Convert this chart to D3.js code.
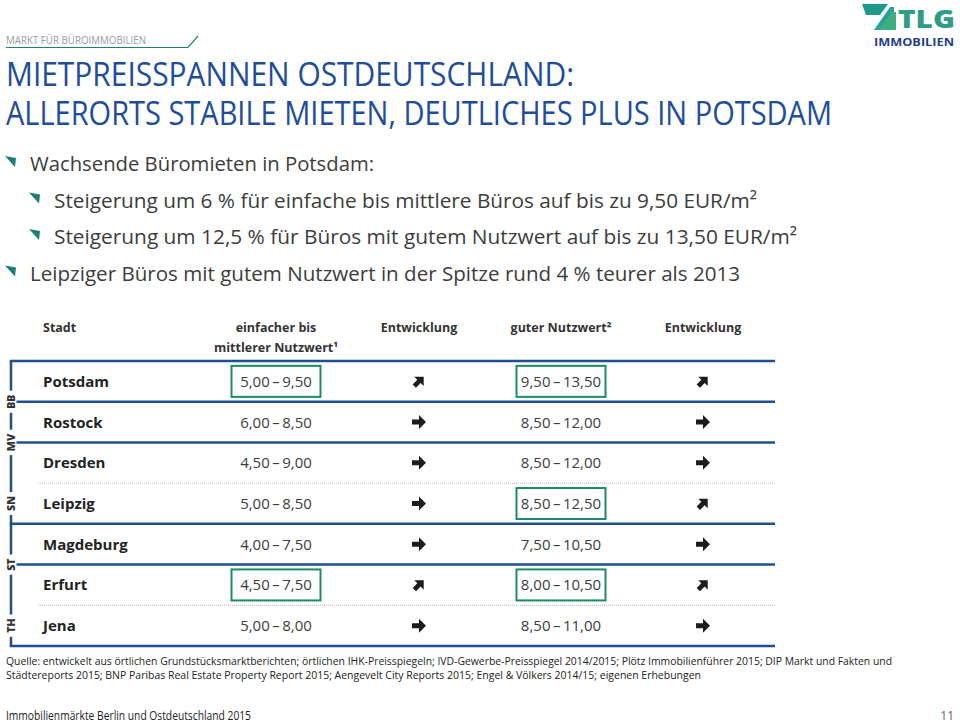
<!DOCTYPE html>
<html>
<head>
<meta charset="utf-8">
<script src="https://cdn.jsdelivr.net/npm/d3@7/dist/d3.min.js"></script>
<style>
  html, body { margin: 0; padding: 0; background: #fff; }
  svg { display: block; }
  text { font-family: "Open Sans", "Noto Sans", "DejaVu Sans", sans-serif; }
</style>
</head>
<body>
<svg id="chart" width="960" height="724"></svg>
<script>
// ---------- DATA ----------
const kicker = "MARKT FÜR BÜROIMMOBILIEN";
const titleLines = ["MIETPREISSPANNEN OSTDEUTSCHLAND:", "ALLERORTS STABILE MIETEN, DEUTLICHES PLUS IN POTSDAM"];
const bulletTexts = [
  "Wachsende Büromieten in Potsdam:",
  "Steigerung um 6 % für einfache bis mittlere Büros auf bis zu 9,50 EUR/m²",
  "Steigerung um 12,5 % für Büros mit gutem Nutzwert auf bis zu 13,50 EUR/m²",
  "Leipziger Büros mit gutem Nutzwert in der Spitze rund 4 % teurer als 2013"
];
const bulletLevels = [0, 1, 1, 0];

const headerStadt = "Stadt";
const headerSimple = ["einfacher bis", "mittlerer Nutzwert¹"];
const headerTrend = "Entwicklung";
const headerGood = "guter Nutzwert²";

const cities = ["Potsdam", "Rostock", "Dresden", "Leipzig", "Magdeburg", "Erfurt", "Jena"];
const states = ["BB", "MV", "SN", "SN", "ST", "TH", "TH"];
const simpleLow  = [5.00, 6.00, 4.50, 5.00, 4.00, 4.50, 5.00];
const simpleHigh = [9.50, 8.50, 9.00, 8.50, 7.50, 7.50, 8.00];
const simpleTrend = ["up", "flat", "flat", "flat", "flat", "up", "flat"];
const goodLow  = [9.50, 8.50, 8.50, 8.50, 7.50, 8.00, 8.50];
const goodHigh = [13.50, 12.00, 12.00, 12.50, 10.50, 10.50, 11.00];
const goodTrend = ["up", "flat", "flat", "up", "flat", "up", "flat"];

const sourceLines = [
  "Quelle: entwickelt aus örtlichen Grundstücksmarktberichten; örtlichen IHK-Preisspiegeln; IVD-Gewerbe-Preisspiegel 2014/2015; Plötz Immobilienführer 2015; DIP Markt und Fakten und",
  "Städtereports 2015; BNP Paribas Real Estate Property Report 2015; Aengevelt City Reports 2015; Engel & Völkers 2014/15; eigenen Erhebungen"
];
const footerText = "Immobilienmärkte Berlin und Ostdeutschland 2015";
const pageNumber = "11";

// ---------- STYLE ----------
const NAVY = "#1f4f8f";
const TITLE = "#1e4d9b";
const TEAL = "#1b7f72";
const BOX = "#1d8a6c";
const TEXT = "#3c3c3c";

const svg = d3.select("#chart");
const de = d3.formatLocale({decimal: ",", thousands: ".", grouping: [3], currency: ["", " €"]});
const fmt = de.format(".2f");

function fit(sel, w) {
  sel.attr("textLength", w).attr("lengthAdjust", "spacingAndGlyphs");
}

// ---------- HEADER ----------
svg.append("text").attr("x", 6).attr("y", 44).attr("font-size", 11.5).attr("fill", "#9a9a9a")
  .text(kicker).call(fit, 140);
svg.append("path").attr("d", "M6,47.5 L188,47.5 L198,36").attr("fill", "none")
  .attr("stroke", TEAL).attr("stroke-width", 1.2);

const titleW = [568, 826];
titleLines.forEach((t, i) => {
  svg.append("text").attr("x", 6).attr("y", 86 + i * 39).attr("font-size", 33).attr("font-weight", 400)
    .attr("fill", TITLE).text(t).call(fit, titleW[i]);
});

// logo
const logo = svg.append("g").attr("transform", "translate(858,4)");
logo.append("path").attr("d", "M4,0 L30,0 L22,11 L8,11 Z").attr("fill", "#1e9a8c");
logo.append("path").attr("d", "M0,26 L16,26 L32,3 L36,3 L36,8 L22,26 Z").attr("fill", "#29a0a0");
logo.append("path").attr("d", "M20,26 L34,8 L38,8 L38,26 Z").attr("fill", "#3fae7a");
logo.append("text").attr("x", 40).attr("y", 24).attr("font-size", 24).attr("font-weight", 800)
  .attr("fill", "#2f9c86").attr("font-family", "Lato, 'Open Sans', sans-serif").text("TLG").call(fit, 57);
svg.append("text").attr("x", 874).attr("y", 46).attr("font-size", 11).attr("font-weight", 700)
  .attr("fill", "#1f3f8a").text("IMMOBILIEN").call(fit, 80);

// ---------- BULLETS ----------
const bulletW = [344, 703, 743, 710];
bulletTexts.forEach((t, i) => {
  const bx = bulletLevels[i] === 0 ? 5 : 29;
  const by = 171 + i * 36.5;
  svg.append("path")
    .attr("d", `M${bx},${by - 15} L${bx + 11},${by - 13} L${bx + 10},${by - 4} Z`)
    .attr("fill", TEAL);
  svg.append("text").attr("x", bx + 25).attr("y", by).attr("font-size", 20).attr("fill", TEXT)
    .text(t).call(fit, bulletW[i]);
});

// ---------- TABLE ----------
const y = d3.scaleBand().domain(cities).range([361, 646]).padding(0);
const bw = y.bandwidth();
const colX = d3.scaleOrdinal()
  .domain(["city", "simple", "simpleTrend", "good", "goodTrend"])
  .range([43, 276, 419, 561, 703]);
const lineLeft = 11, lineRight = 775;

// column headers
const hdr = svg.append("g").attr("font-size", 12.5).attr("font-weight", 700).attr("fill", "#333");
hdr.append("text").attr("x", colX("city")).attr("y", 332).text(headerStadt);
hdr.append("text").attr("x", colX("simple")).attr("y", 332).attr("text-anchor", "middle").text(headerSimple[0]);
hdr.append("text").attr("x", colX("simple")).attr("y", 352).attr("text-anchor", "middle").text(headerSimple[1]);
hdr.append("text").attr("x", colX("simpleTrend")).attr("y", 332).attr("text-anchor", "middle").text(headerTrend);
hdr.append("text").attr("x", colX("good")).attr("y", 332).attr("text-anchor", "middle").text(headerGood);
hdr.append("text").attr("x", colX("goodTrend")).attr("y", 332).attr("text-anchor", "middle").text(headerTrend);

// groups
const groups = [];
states.forEach((s, i) => {
  const g = groups[groups.length - 1];
  if (g && g.state === s) g.cities.push(cities[i]);
  else groups.push({state: s, cities: [cities[i]]});
});
groups.forEach(g => {
  g.top = y(g.cities[0]);
  g.bottom = y(g.cities[g.cities.length - 1]) + bw;
  g.labelY = g.bottom - (g.cities.length - 1) * bw / 2;
});

// dotted inner lines
groups.forEach(g => {
  g.cities.slice(1).forEach(c => {
    svg.append("line").attr("x1", 38).attr("x2", lineRight).attr("y1", y(c)).attr("y2", y(c))
      .attr("stroke", "#b8b8b8").attr("stroke-width", 1).attr("stroke-dasharray", "1,1");
  });
});

// vertical + horizontal group lines
svg.append("line").attr("x1", lineLeft).attr("x2", lineLeft).attr("y1", y.range()[0]).attr("y2", y.range()[1])
  .attr("stroke", NAVY).attr("stroke-width", 2.5);
const hLines = [y.range()[0]].concat(groups.map(g => g.bottom));
svg.selectAll(".hline").data(hLines).join("line").attr("class", "hline")
  .attr("x1", lineLeft - 1.25).attr("x2", lineRight).attr("y1", d => d).attr("y2", d => d)
  .attr("stroke", NAVY).attr("stroke-width", 2.5);

// state labels
groups.forEach(g => {
  const lbl = svg.append("g").attr("transform", `translate(${lineLeft},${g.labelY}) rotate(-90)`);
  const t = lbl.append("text").attr("x", 0).attr("y", 4).attr("text-anchor", "middle")
    .attr("font-size", 10.5).attr("font-weight", 800).attr("fill", "#333").text(g.state);
  const w = t.node().getComputedTextLength();
  lbl.insert("rect", "text").attr("x", -w / 2 - 4).attr("y", -6).attr("width", w + 8).attr("height", 11.5)
    .attr("fill", "#fff");
});

// rows
const rows = svg.selectAll(".row").data(cities.map((c, i) => ({
  city: c, sl: simpleLow[i], sh: simpleHigh[i], st: simpleTrend[i],
  gl: goodLow[i], gh: goodHigh[i], gt: goodTrend[i]
}))).join("g").attr("class", "row")
  .attr("transform", d => `translate(0,${y(d.city) + bw / 2})`);

rows.append("text").attr("x", colX("city")).attr("y", 5.5).attr("font-size", 15).attr("font-weight", 700)
  .attr("fill", "#222").text(d => d.city);

const boxW = 89, boxH = 31;
function valueCell(sel, col, lo, hi, tr) {
  sel.filter(d => d[tr] === "up").append("rect")
    .attr("x", colX(col) - boxW / 2).attr("y", -boxH / 2).attr("width", boxW).attr("height", boxH)
    .attr("fill", "none").attr("stroke", BOX).attr("stroke-width", 2);
  sel.append("text").attr("x", colX(col)).attr("y", 5.5).attr("text-anchor", "middle")
    .attr("font-size", 15).attr("fill", TEXT)
    .text(d => fmt(d[lo]) + "\u2009–\u2009" + fmt(d[hi]));
}
valueCell(rows, "simple", "sl", "sh", "st");
valueCell(rows, "good", "gl", "gh", "gt");

const arrowPath = "M-7,-2.5 L0,-2.5 L0,-7 L7,0 L0,7 L0,2.5 L-7,2.5 Z";
function trendCell(sel, col, tr) {
  sel.append("path").attr("d", arrowPath).attr("fill", "#1c1c1c")
    .attr("transform", d => d[tr] === "up"
      ? `translate(${colX(col)},0) rotate(-45) scale(0.95)`
      : `translate(${colX(col)},0)`);
}
trendCell(rows, "simpleTrend", "st");
trendCell(rows, "goodTrend", "gt");

// ---------- FOOTER ----------
const srcW = [886, 695];
sourceLines.forEach((t, i) => {
  svg.append("text").attr("x", 6).attr("y", 665 + i * 14).attr("font-size", 10.5).attr("fill", "#222")
    .text(t).call(fit, srcW[i]);
});
svg.append("text").attr("x", 6).attr("y", 720).attr("font-size", 12).attr("fill", "#222")
  .text(footerText).call(fit, 245);
svg.append("text").attr("x", 954).attr("y", 720).attr("text-anchor", "end").attr("font-size", 12)
  .attr("fill", "#666").text(pageNumber);
</script>
</body>
</html>
